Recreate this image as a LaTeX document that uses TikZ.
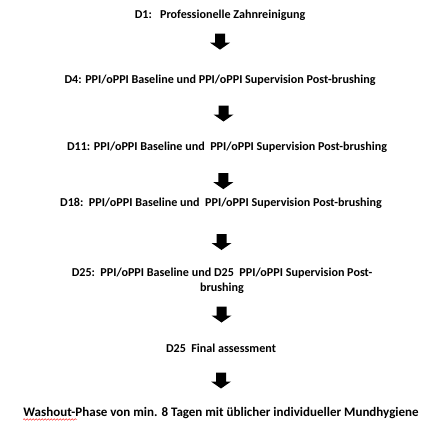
\documentclass[tikz,border=0pt]{standalone}
\usepackage{fontspec}
\setmainfont{Carlito}
\usetikzlibrary{decorations.pathmorphing}

\begin{document}
\begin{tikzpicture}[x=1pt, y=-1pt,
  stage/.style={font=\bfseries\fontsize{12.1}{15}\selectfont, inner sep=0pt, align=center},
  widestage/.style={stage, font=\bfseries\fontsize{13}{15}\selectfont},
  fatarr/.style={fill=black}
]
  \useasboundingbox (0,0) rectangle (432,423);

  \node[stage] (d1) at (220,15) {D1:\ \ \ Professionelle Zahnreinigung};
  \node[stage] (d4) at (220,80) {D4: PPI/oPPI Baseline und PPI/oPPI Supervision Post-brushing};
  \node[stage] (d11) at (227,147) {D11: PPI/oPPI Baseline und\ \ PPI/oPPI Supervision Post-brushing};
  \node[stage] (d18) at (221,203) {D18:\ \ PPI/oPPI Baseline und\ \ PPI/oPPI Supervision Post-brushing};
  \node[stage] (d25) at (222,281) {D25:\ \ PPI/oPPI Baseline und D25\ \ PPI/oPPI Supervision Post-\\brushing};
  \node[stage] (final) at (221,348) {D25\ \ Final assessment};
  \node[widestage] (wash) at (221,413) {Washout-Phase von min. 8 Tagen mit üblicher individueller Mundhygiene};

  % block arrows between the stages
  \path (d1.center) -- coordinate[pos=0.41] (a1) (d4.center);
  \path (d4.center) -- coordinate[pos=0.5] (a2) (d11.center);
  \path (d11.center) -- coordinate[pos=0.61] (a3) (d18.center);
  \path (d18.center) -- coordinate[pos=0.5] (a4) (d25.center);
  \path (d25.center) -- coordinate[pos=0.5] (a5) (final.center);
  \path (final.center) -- coordinate[pos=0.5] (a6) (wash.center);
  \foreach \a in {a1,a2,a3,a4,a5,a6}
    \fill[fatarr] ([shift={(-5,-8)}]\a) -- ++(10,0) -- ++(0,9) -- ++(5,0)
      -- ([shift={(0,8)}]\a) -- ([shift={(-10,1)}]\a) -- ++(5,0) -- cycle;

  \draw[red, decorate, decoration={snake, segment length=3pt, amplitude=0.8pt}]
    ([yshift=-3pt]wash.base west) -- ++(54,0);
\end{tikzpicture}
\end{document}
